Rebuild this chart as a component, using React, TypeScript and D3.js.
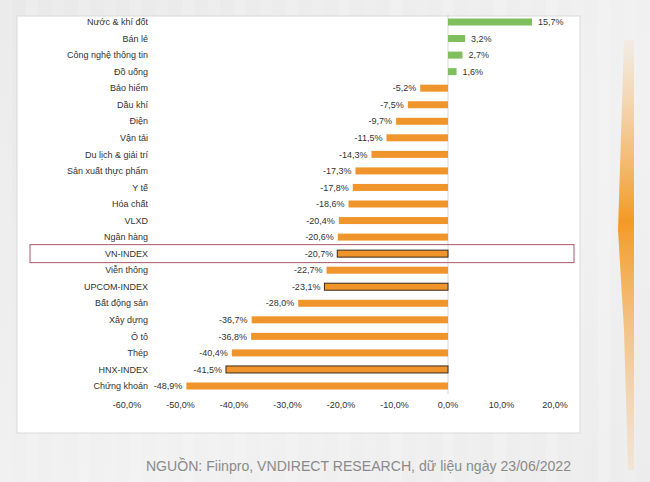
import { useEffect } from 'react'
import * as d3 from 'd3'

const CATEGORIES = [
  'Nước & khí đốt', 'Bán lẻ', 'Công nghệ thông tin', 'Đồ uống', 'Bảo hiểm',
  'Dầu khí', 'Điện', 'Vận tải', 'Du lịch & giải trí', 'Sản xuất thực phẩm',
  'Y tế', 'Hóa chất', 'VLXD', 'Ngân hàng', 'VN-INDEX', 'Viễn thông',
  'UPCOM-INDEX', 'Bất động sản', 'Xây dựng', 'Ô tô', 'Thép', 'HNX-INDEX',
  'Chứng khoán',
]

const VALUES = [
  15.7, 3.2, 2.7, 1.6, -5.2, -7.5, -9.7, -11.5, -14.3, -17.3, -17.8, -18.6,
  -20.4, -20.6, -20.7, -22.7, -23.1, -28.0, -36.7, -36.8, -40.4, -41.5, -48.9,
]

const INDEXES = ['VN-INDEX', 'UPCOM-INDEX', 'HNX-INDEX']
const HIGHLIGHT = 'VN-INDEX'
const X_TICKS = [-60, -50, -40, -30, -20, -10, 0, 10, 20]
const SOURCE = 'NGUỒN: Fiinpro, VNDIRECT RESEARCH, dữ liệu ngày 23/06/2022'

const W = 650
const H = 482
const FONT = '"Liberation Sans", Arial, sans-serif'
const ORANGE = '#f0952c'
const GREEN = '#7fbf5e'

const pct = (v: number) => v.toFixed(1).replace('.', ',') + '%'

export default function App() {
  useEffect(() => {
    document.body.style.margin = '0'
  }, [])

  const x = d3.scaleLinear().domain([-60, 20]).range([127, 555])
  const y = d3.scalePoint<string>().domain(CATEGORIES).range([22, 386])
  const barH = 7
  const stripes = d3.range(0, W, 26)

  const hy = y(HIGHLIGHT) ?? 0

  return (
    <svg width={W} height={H} style={{ position: 'absolute', left: 0, top: 0 }} fontFamily={FONT}>
      <defs>
        <linearGradient id="bg" x1="0" y1="0" x2="1" y2="1">
          <stop offset="0" stopColor="#e9e9e9" />
          <stop offset="0.6" stopColor="#f1f1f1" />
          <stop offset="1" stopColor="#ececec" />
        </linearGradient>
        <linearGradient id="deco" x1="0" y1="0" x2="0" y2="1">
          <stop offset="0" stopColor="#f7b868" stopOpacity="0.1" />
          <stop offset="0.42" stopColor="#f39a25" stopOpacity="1" />
          <stop offset="1" stopColor="#f7c890" stopOpacity="0.25" />
        </linearGradient>
      </defs>
      <rect width={W} height={H} fill="url(#bg)" />
      {stripes.map((s, i) => (
        <rect key={s} x={s} y={0} width={12} height={H} fill="#ffffff" opacity={i % 2 ? 0.18 : 0.1} />
      ))}
      <path d="M624,40 L634,40 L634,470 L628,470 L624,330 L618,230 Z" fill="url(#deco)" />

      <rect x={17} y={16} width={563} height={417} fill="#ffffff" stroke="#dadada" strokeWidth={1} />

      <line x1={x(0)} x2={x(0)} y1={14} y2={394} stroke="#d9d9d9" strokeWidth={1} />

      {CATEGORIES.map((c, i) => {
        const v = VALUES[i]
        const cy = y(c) ?? 0
        const x0 = x(Math.min(0, v))
        const w = Math.abs(x(v) - x(0))
        const isIdx = INDEXES.includes(c)
        return (
          <g key={c}>
            <text x={148} y={cy} dy="0.35em" textAnchor="end" fontSize={9} fill="#333">{c}</text>
            <rect
              x={x0}
              y={cy - barH / 2}
              width={w}
              height={barH}
              fill={v >= 0 ? GREEN : ORANGE}
              stroke={isIdx ? '#3a2a1a' : 'none'}
              strokeWidth={isIdx ? 1 : 0}
            />
            <text
              x={v >= 0 ? x(v) + 6 : x(v) - 4}
              y={cy}
              dy="0.35em"
              textAnchor={v >= 0 ? 'start' : 'end'}
              fontSize={9}
              fill="#333"
            >
              {pct(v)}
            </text>
          </g>
        )
      })}

      <rect x={30} y={hy - 9} width={544} height={18} fill="none" stroke="#a8586a" strokeWidth={1} />

      {X_TICKS.map(t => (
        <text key={t} x={x(t)} y={405} dy="0.35em" textAnchor="middle" fontSize={9} fill="#333">
          {pct(t)}
        </text>
      ))}

      <text x={571} y={466} dy="0.35em" textAnchor="end" fontSize={14.1} fill="#8a8a8a">{SOURCE}</text>
    </svg>
  )
}
